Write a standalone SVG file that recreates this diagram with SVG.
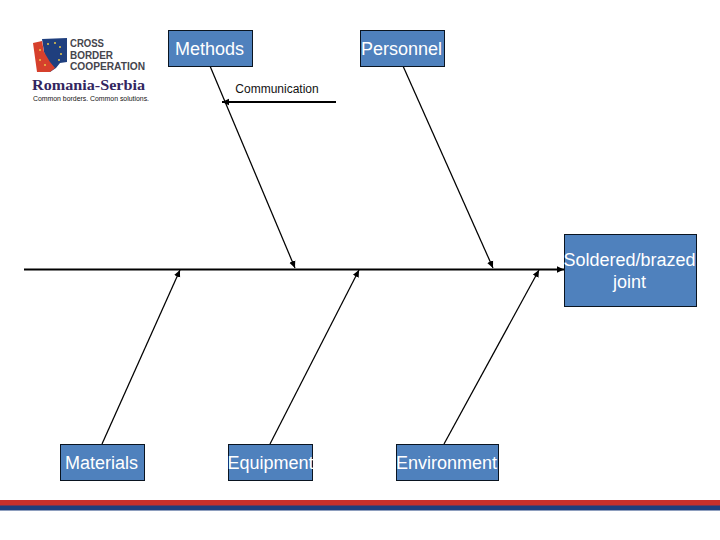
<svg xmlns="http://www.w3.org/2000/svg" width="720" height="540" viewBox="0 0 720 540">
<style>
.box{fill:#4f81bd;stroke:#0a1420;stroke-width:1}
.lbl{font-family:"Liberation Sans",Arial,sans-serif;font-size:18px;fill:#fff;text-anchor:middle}
.bone{stroke:#000;stroke-width:1.25;fill:none;marker-end:url(#a)}
.logo{font-family:"Liberation Sans",Arial,sans-serif;font-size:11px;font-weight:bold;fill:#45454d}
</style>
<defs>
<marker id="a" markerUnits="userSpaceOnUse" markerWidth="8" markerHeight="8" refX="7" refY="4" orient="auto"><path d="M0,0.8L7,4L0,7.2Z" fill="#000"/></marker>
</defs>
<rect width="720" height="540" fill="#fff"/>
<g id="connectors">
<line class="bone" x1="24" y1="269.500" x2="564" y2="269.500" style="stroke-width:2"/>
<line class="bone" x1="210" y1="66" x2="295" y2="268"/>
<line class="bone" x1="403" y1="66" x2="493" y2="268"/>
<line class="bone" x1="102" y1="444" x2="180" y2="270"/>
<line class="bone" x1="270" y1="444" x2="359" y2="270"/>
<line class="bone" x1="444" y1="444" x2="539" y2="270"/>
<line class="bone" x1="336" y1="102" x2="222" y2="102" style="stroke-width:2"/>
</g>
<g id="methods"><rect class="box" x="168.500" y="30.500" width="84" height="36"/><text class="lbl" x="209.500" y="54.500">Methods</text></g>
<g id="personnel"><rect class="box" x="360.500" y="30.500" width="84" height="36"/><text class="lbl" x="401.500" y="54.500">Personnel</text></g>
<g id="effect"><rect class="box" x="564.500" y="234.500" width="132" height="72"/><text class="lbl" x="629.500" y="265.500">Soldered/brazed</text><text class="lbl" x="629.500" y="287.500">joint</text></g>
<g id="materials"><rect class="box" x="60.500" y="444.500" width="84" height="36"/><text class="lbl" x="101.500" y="468.500">Materials</text></g>
<g id="equipment"><rect class="box" x="228.500" y="444.500" width="84" height="36"/><text class="lbl" x="270.500" y="468.500">Equipment</text></g>
<g id="environment"><rect class="box" x="396.500" y="444.500" width="102" height="36"/><text class="lbl" x="446.500" y="468.500">Environment</text></g>
<g id="communication"><text x="277" y="93" font-family="'Liberation Sans',Arial,sans-serif" font-size="12" fill="#111" text-anchor="middle">Communication</text></g>
<g id="logo">
<path d="M42,39L67,38V62L60,63L56,68L50,72L44,52Z" fill="#1f3f7e"/>
<path d="M33,43L42,41L44,52L50,62L55,68L50,72L37,72Z" fill="#d6402c"/>
<g fill="#e9c84a"><circle cx="48" cy="44" r="1"/><circle cx="55" cy="43" r="1"/><circle cx="60" cy="47" r="1"/><circle cx="61" cy="54" r="1"/><circle cx="59" cy="60" r="1"/><circle cx="40" cy="50" r="1"/><circle cx="40" cy="60" r="1"/><circle cx="45" cy="65" r="1"/></g>
<text class="logo" x="70" y="47" textLength="34" lengthAdjust="spacingAndGlyphs">CROSS</text>
<text class="logo" x="70" y="58.500" textLength="43" lengthAdjust="spacingAndGlyphs">BORDER</text>
<text class="logo" x="70" y="70" textLength="75" lengthAdjust="spacingAndGlyphs">COOPERATION</text>
<text x="32" y="90" font-family="'Liberation Serif','Times New Roman',serif" font-size="15.500" font-weight="bold" fill="#33265f" textLength="113" lengthAdjust="spacingAndGlyphs">Romania-Serbia</text>
<text x="33" y="100.500" font-family="'Liberation Sans',Arial,sans-serif" font-size="7" fill="#111" textLength="116" lengthAdjust="spacingAndGlyphs">Common borders. Common solutions.</text>
</g>
<g id="footer"><rect x="0" y="500" width="720" height="6" fill="#c9302c"/><rect x="0" y="505.500" width="720" height="5" fill="#1f3f7e"/></g>
</svg>
